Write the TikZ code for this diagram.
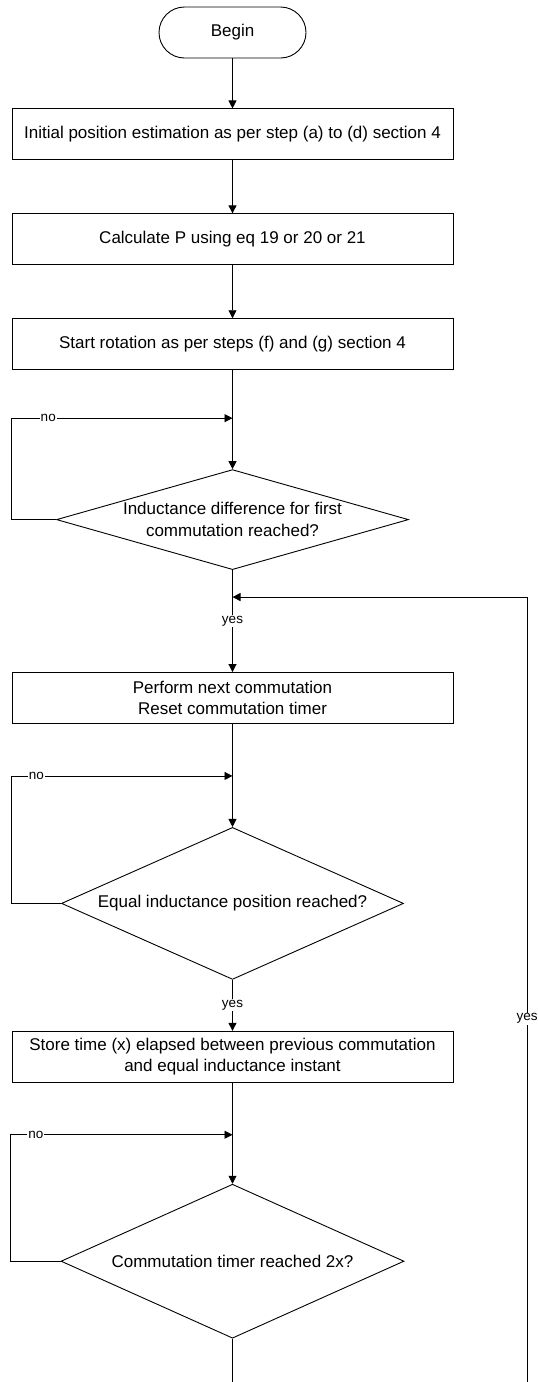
\documentclass[tikz,border=0pt]{standalone}
\usepackage{fontspec}
\setmainfont{Liberation Sans}
\usetikzlibrary{positioning,shapes.geometric,arrows.meta}

\begin{document}
\begin{tikzpicture}[
node distance = 50pt and 60pt,
terminal/.style={rectangle, rounded corners=25.5pt, draw=black, line width=0.9pt, minimum width=147pt, minimum height=51pt, inner sep=0pt, font=\fontsize{17}{21}\selectfont},
process/.style={rectangle, draw=black, line width=0.9pt, minimum width=441pt, minimum height=51pt, inner sep=0pt, align=center, font=\fontsize{17}{21}\selectfont},
decision/.style={diamond, draw=black, line width=0.9pt, inner sep=0pt, align=center, font=\fontsize{17}{22}\selectfont},
lbl/.style={fill=white, inner sep=1pt, font=\fontsize{13.5}{15}\selectfont},
line/.style={line width=0.9pt, -{Triangle[length=8pt,width=8pt]}}]

\useasboundingbox (0,0) rectangle (538pt,-1382pt);

\node[terminal] (1) at (232.5pt,-32.5pt) {Begin};
\node[process] (2) [below = 50pt of 1] {Initial position estimation as per step (a) to (d) section 4};
\node[process] (3) [below = 53pt of 2] {Calculate P using eq 19 or 20 or 21};
\node[process] (4) [below = 53pt of 3] {Start rotation as per steps (f) and (g) section 4};

\node[decision, minimum width=352pt, minimum height=100pt, shape aspect=3.52] (5) [below = 99pt of 4] {Inductance difference for first\\commutation reached?};
\node[process] (6) [below = 102pt of 5] {Perform next commutation\\Reset commutation timer};
\node[decision, minimum width=342pt, minimum height=152pt, shape aspect=2.25] (7) [below = 103pt of 6] {Equal inductance position reached?};
\node[process] (8) [below = 51pt of 7] {Store time (x) elapsed between previous commutation\\and equal inductance instant};
\node[decision, minimum width=343pt, minimum height=154pt, shape aspect=2.23] (9) [below = 101pt of 8] {Commutation timer reached 2x?};

% loop entries and return path
\coordinate[above = 51pt of 5] (51);
\coordinate[below = 27pt of 5] (52);
\coordinate[above = 51pt of 7] (71);
\coordinate[above = 49pt of 9] (91);
\coordinate[below = 51pt of 9] (10);
\coordinate[right = 294.5pt of 10] (11);

\draw[line](1)--(2);
\draw[line](2)--(3);
\draw[line](3)--(4);
\draw[line](4)--(5);
\draw[line](5)-- node[lbl]{yes} (6);
\draw[line](6)--(7);
\draw[line](7)-- node[lbl]{yes} (8);
\draw[line](8)--(9);

\draw[line](5.west) -- ++(-45pt,0) |- node[lbl, pos=0.584]{no} (51);
\draw[line](7.west) -- ++(-50pt,0) |- node[lbl, pos=0.557]{no} (71);
\draw[line](9.west) -- ++(-50pt,0) |- node[lbl, pos=0.557]{no} (91);

\draw[line width=0.9pt](9)--(10);
\draw[line](11) |- node[lbl, pos=0.234]{yes} (52);
\end{tikzpicture}
\end{document}
